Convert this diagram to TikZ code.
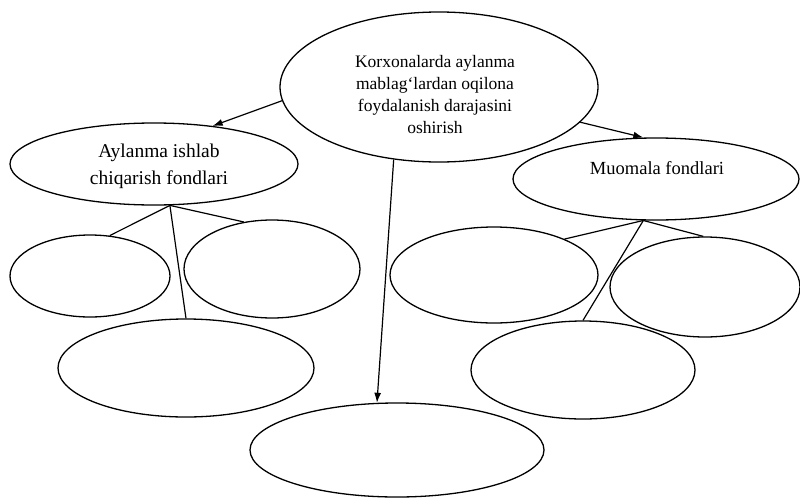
\documentclass[tikz,border=0pt]{standalone}
\usepackage{fontspec}
\setmainfont{Liberation Serif}
\usetikzlibrary{shapes.geometric,arrows.meta}
\begin{document}
\begin{tikzpicture}[x=1pt,y=-1pt,
  ell/.style={draw, ellipse, inner sep=0pt, line width=1.3pt},
  con/.style={line width=1.2pt},
  arr/.style={con, -{Latex[length=10pt,width=7pt]}},
  txt/.style={align=center, font=\fontsize{19.5}{27}\selectfont},
  rtxt/.style={align=center, font=\fontsize{18.5}{26}\selectfont},
  toptxt/.style={align=center, font=\fontsize{17.5}{22}\selectfont}]
\useasboundingbox (0,0) rectangle (800,498);
% ellipses
\node[ell, minimum width=318pt, minimum height=150pt] (T) at (439,87) {};
\node[ell, minimum width=288pt, minimum height=82pt] (L) at (154,164) {};
\node[ell, minimum width=286pt, minimum height=82pt] (R) at (656,179) {};
\node[ell, minimum width=160pt, minimum height=82pt] (A) at (90,276) {};
\node[ell, minimum width=176pt, minimum height=98pt] (B) at (272,269) {};
\node[ell, minimum width=256pt, minimum height=98pt] (C) at (186,368) {};
\node[ell, minimum width=294pt, minimum height=94pt] (D) at (397,450) {};
\node[ell, minimum width=208pt, minimum height=96pt] (E) at (494,275) {};
\node[ell, minimum width=190pt, minimum height=100pt] (F) at (705,287) {};
\node[ell, minimum width=224pt, minimum height=98pt] (G) at (583,370) {};
% texts
\node[toptxt] (Tt) at (435,95) {Korxonalarda aylanma\\mablag‘lardan oqilona\\foydalanish darajasini\\oshirish};
\node[txt] (Lt) at (159,166) {Aylanma ishlab\\chiqarish fondlari};
\node[rtxt] (Rt) at (657,168) {Muomala fondlari};
% arrows from top
\draw[arr] (T.185) -- (L.33);
\draw[arr] (T.-14) -- (R.107);
\draw[arr] (T.238) -- (D.113);
% lines from left group
\draw[con] (L.291) -- (A.64);
\draw[con] (L.291) -- (B.121);
\draw[con] (L.291) -- (C.north);
% lines from right group
\draw[con] (R.253) -- (E.27);
\draw[con] (R.253) -- (F.92);
\draw[con] (R.253) -- (G.north);
\end{tikzpicture}
\end{document}
